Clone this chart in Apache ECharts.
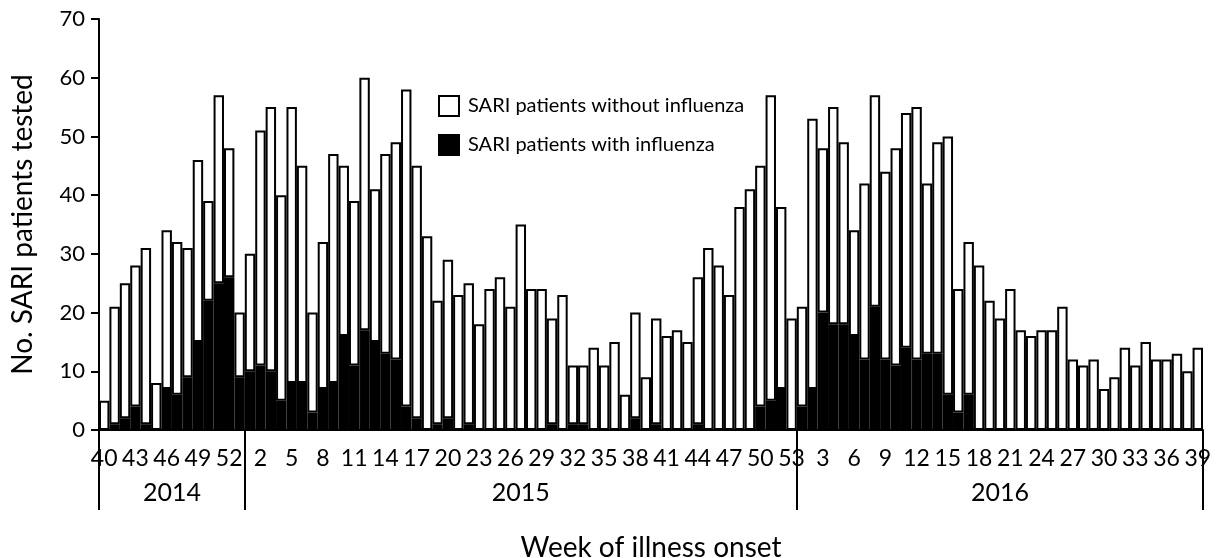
<!DOCTYPE html>
<html>
<head>
<meta charset="utf-8">
<script src="https://cdn.jsdelivr.net/npm/echarts@6/dist/echarts.min.js"></script>
<style>
  html, body { margin: 0; padding: 0; background: #fff; }
  #sari { width: 1218px; height: 558px; }
</style>
</head>
<body>
<div id="sari"></div>
<script>
// weeks of illness onset, per year
const weeks2014 = [40, 41, 42, 43, 44, 45, 46, 47, 48, 49, 50, 51, 52, 53];
const weeks2015 = [1, 2, 3, 4, 5, 6, 7, 8, 9, 10, 11, 12, 13, 14, 15, 16, 17, 18, 19, 20,
  21, 22, 23, 24, 25, 26, 27, 28, 29, 30, 31, 32, 33, 34, 35, 36, 37, 38, 39, 40,
  41, 42, 43, 44, 45, 46, 47, 48, 49, 50, 51, 52, 53];
const weeks2016 = [1, 2, 3, 4, 5, 6, 7, 8, 9, 10, 11, 12, 13, 14, 15, 16, 17, 18, 19, 20,
  21, 22, 23, 24, 25, 26, 27, 28, 29, 30, 31, 32, 33, 34, 35, 36, 37, 38, 39];
const yearLabels = ['2014', '2015', '2016'];

// SARI patients with influenza (black part)
const withFlu = [
  0, 1, 2, 4, 1, 0, 7, 6, 9, 15, 22, 25, 26, 9,
  10, 11, 10, 5, 8, 8, 3, 7, 8, 16, 11, 17, 15, 13, 12, 4, 2, 0, 1, 2,
  0, 1, 0, 0, 0, 0, 0, 0, 0, 1, 0, 1, 1, 0, 0, 0, 0, 2, 0, 1,
  0, 0, 0, 1, 0, 0, 0, 0, 0, 4, 5, 7, 0,
  4, 7, 20, 18, 18, 16, 12, 21, 12, 11, 14, 12, 13, 13, 6, 3, 6, 0,
  0, 0, 0, 0, 0, 0, 0, 0, 0, 0, 0, 0, 0, 0, 0, 0, 0, 0, 0, 0, 0
];
// SARI patients without influenza (white part, stacked on top)
const withoutFlu = [
  5, 20, 23, 24, 30, 8, 27, 26, 22, 31, 17, 32, 22, 11,
  20, 40, 45, 35, 47, 37, 17, 25, 39, 29, 28, 43, 26, 34, 37, 54, 43, 33, 21, 27,
  23, 24, 18, 24, 26, 21, 35, 24, 24, 18, 23, 10, 10, 14, 11, 15, 6, 18, 9, 18,
  16, 17, 15, 25, 31, 28, 23, 38, 41, 41, 52, 31, 19,
  17, 46, 28, 37, 31, 18, 30, 36, 32, 37, 40, 43, 29, 36, 44, 21, 26, 28,
  22, 19, 24, 17, 16, 17, 17, 21, 12, 11, 12, 7, 9, 14, 11, 15, 12, 12, 13, 10, 14
];

const weeks = weeks2014.concat(weeks2015, weeks2016);
// year boundaries and year label positions on a 0..n scale
const yearSizes = [weeks2014.length, weeks2015.length, weeks2016.length];
const yearEdges = [0];
yearSizes.forEach(function (s) { yearEdges.push(yearEdges[yearEdges.length - 1] + s); });
const yearMids = yearSizes.map(function (s, i) { return yearEdges[i] + s / 2; });

const chart = echarts.init(document.getElementById('sari'));
const font = 'Lato, "Open Sans", sans-serif';

const option = {
  backgroundColor: '#fff',
  animation: false,
  textStyle: { fontFamily: font, color: '#000' },
  grid: { left: 99, right: 15, top: 19, bottom: 128, outerBoundsMode: 'none' },
  legend: {
    orient: 'vertical',
    left: 433,
    top: 90,
    itemWidth: 20,
    itemHeight: 20,
    itemGap: 17,
    icon: 'rect',
    textStyle: { fontFamily: font, fontSize: 20, color: '#000', padding: [0, 0, 0, 4] },
    data: ['SARI patients without influenza', 'SARI patients with influenza']
  },
  xAxis: [
    {
      type: 'category',
      data: weeks,
      position: 'bottom',
      boundaryGap: true,
      name: 'Week of illness onset',
      nameLocation: 'middle',
      nameGap: 104,
      nameTextStyle: { fontFamily: font, fontSize: 28, color: '#000' },
      axisLine: { lineStyle: { color: '#000', width: 2 } },
      axisTick: { show: false },
      axisLabel: { interval: 2, margin: 17, fontSize: 23, color: '#000', fontFamily: font }
    },
    {
      // year divisions under the week labels
      type: 'value',
      position: 'bottom',
      min: 0,
      max: yearEdges[yearEdges.length - 1],
      axisLine: { show: false },
      splitLine: { show: false },
      axisTick: {
        show: true,
        length: 80,
        customValues: yearEdges,
        lineStyle: { color: '#000', width: 2 }
      },
      axisLabel: {
        customValues: yearMids,
        margin: 50,
        fontSize: 25,
        color: '#000',
        fontFamily: font,
        formatter: function (v) { return yearLabels[yearMids.indexOf(v)]; }
      }
    }
  ],
  yAxis: {
    type: 'value',
    min: 0,
    max: 70,
    interval: 10,
    name: 'No. SARI patients tested',
    nameLocation: 'middle',
    nameGap: 62,
    nameTextStyle: { fontFamily: font, fontSize: 28, color: '#000' },
    axisLine: { show: true, lineStyle: { color: '#000', width: 2 } },
    axisTick: { show: true, length: 8, lineStyle: { color: '#000', width: 2 } },
    axisLabel: { fontSize: 22, color: '#000', margin: 14, fontFamily: font },
    splitLine: { show: false }
  },
  series: [
    {
      name: 'SARI patients with influenza',
      type: 'bar',
      stack: 'total',
      barCategoryGap: '0%',
      data: withFlu,
      itemStyle: { color: '#000', borderColor: '#000', borderWidth: 1.5 }
    },
    {
      name: 'SARI patients without influenza',
      type: 'bar',
      stack: 'total',
      barCategoryGap: '0%',
      data: withoutFlu,
      itemStyle: { color: '#fff', borderColor: '#000', borderWidth: 2 }
    }
  ]
};

chart.setOption(option);
window.addEventListener('resize', function () {
  chart.resize();
});
</script>
</body>
</html>
